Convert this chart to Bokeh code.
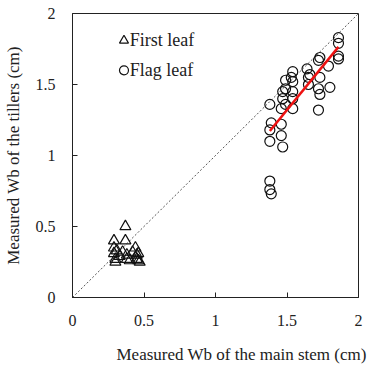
from bokeh.plotting import figure
from bokeh.models import Range1d, FixedTicker, Label, Title
from bokeh.embed import file_html
from bokeh.resources import INLINE
import numpy as np

# Measured Wb (cm): main stem (x) vs tillers (y)
first_leaf_x = [0.29, 0.29, 0.29, 0.30, 0.30, 0.31, 0.33, 0.35, 0.37, 0.37,
                0.38, 0.38, 0.40, 0.42, 0.44, 0.45, 0.45, 0.46, 0.46, 0.47]
first_leaf_y = [0.40, 0.35, 0.31, 0.27, 0.25, 0.33, 0.29, 0.32, 0.50, 0.40,
                0.30, 0.27, 0.26, 0.32, 0.35, 0.30, 0.27, 0.31, 0.26, 0.25]

flag_leaf_x = [1.38, 1.39, 1.38, 1.38, 1.38, 1.38, 1.39,
               1.46, 1.46, 1.46, 1.47, 1.47, 1.49, 1.49, 1.47, 1.49,
               1.54, 1.54, 1.54, 1.54, 1.54, 1.53,
               1.64, 1.65, 1.65, 1.66,
               1.73, 1.72, 1.73, 1.72, 1.73, 1.72,
               1.79, 1.80,
               1.86, 1.86, 1.86, 1.86]
flag_leaf_y = [1.36, 1.23, 1.18, 1.10, 0.82, 0.76, 0.73,
               1.33, 1.22, 1.14, 1.06, 1.45, 1.53, 1.47, 1.40, 1.36,
               1.59, 1.52, 1.45, 1.40, 1.33, 1.55,
               1.61, 1.55, 1.50, 1.57,
               1.69, 1.67, 1.55, 1.47, 1.43, 1.32,
               1.63, 1.48,
               1.83, 1.79, 1.70, 1.68]

# Linear fit for the flag leaf
fit_slope = 1.235
fit_intercept = -0.532

ticks = [0, 0.5, 1, 1.5, 2]
tick_labels = ["0", "0.5", "1", "1.5", "2"]

FONT = "'Liberation Serif', 'Times New Roman', serif"
INK = "#222222"

p = figure(width=379, height=378, output_backend="svg", toolbar_location=None,
           x_range=Range1d(0, 2), y_range=Range1d(0, 2),
           min_border_left=71, min_border_right=21,
           min_border_top=13, min_border_bottom=80)
p.background_fill_color = "white"
p.border_fill_color = "white"
p.outline_line_color = INK
p.outline_line_width = 1
p.xgrid.visible = False
p.ygrid.visible = False

for ax in (p.xaxis[0], p.yaxis[0]):
    ax.ticker = FixedTicker(ticks=ticks)
    ax.major_label_overrides = {t: l for t, l in zip(ticks, tick_labels)}
    ax.major_tick_in = 5
    ax.major_tick_out = 0
    ax.minor_tick_in = 0
    ax.minor_tick_out = 0
    ax.axis_line_color = INK
    ax.major_tick_line_color = INK
    ax.major_label_text_font = FONT
    ax.major_label_text_font_size = "16px"
    ax.major_label_text_color = INK

p.xaxis.major_label_standoff = 17
p.yaxis.major_label_standoff = 17

p.yaxis.axis_label = "Measured Wb of the tillers (cm)"
p.yaxis.axis_label_text_font = FONT
p.yaxis.axis_label_text_font_size = "17px"
p.yaxis.axis_label_text_font_style = "normal"
p.yaxis.axis_label_text_color = INK
p.yaxis.axis_label_standoff = 10

# 1:1 reference line
p.line([0, 2], [0, 2], line_color="#555555", line_width=1, line_dash="2 2")

p.scatter(first_leaf_x, first_leaf_y, marker="triangle", size=11,
          fill_color=None, line_color="#111111", line_width=1.2)
p.scatter(flag_leaf_x, flag_leaf_y, marker="circle", size=10,
          fill_color=None, line_color="#111111", line_width=1.2)

fx = np.array([min(flag_leaf_x), max(flag_leaf_x)])
p.line(fx, fit_slope * fx + fit_intercept, line_color="#ee1111", line_width=2.5)

# Legend
p.scatter([0.36], [1.81], marker="triangle", size=9, fill_color=None,
          line_color="#111111", line_width=1.2)
p.scatter([0.36], [1.60], marker="circle", size=9, fill_color=None,
          line_color="#111111", line_width=1.2)
for ly, txt in [(1.81, "First leaf"), (1.60, "Flag leaf")]:
    p.add_layout(Label(x=0.40, y=ly, text=txt, text_font=FONT,
                       text_font_size="18px", text_baseline="middle",
                       text_color=INK))

xtitle = Title(text="Measured  Wb of the main  stem (cm)", align="left",
               offset=44, text_font=FONT, text_font_size="17px",
               text_font_style="normal", text_color=INK, standoff=29)
p.add_layout(xtitle, "below")

open("out.html", "w").write(file_html(p, INLINE))
